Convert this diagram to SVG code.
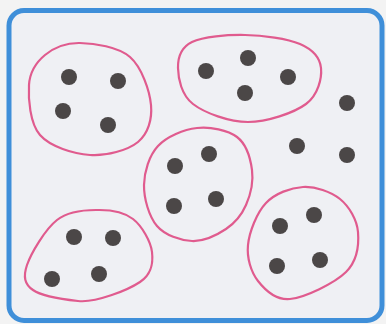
<svg xmlns="http://www.w3.org/2000/svg" width="386" height="324" viewBox="0 0 386 324">
<style>
.frame{fill:#eff0f4;stroke:#3f8fd9;stroke-width:5}
.blob{fill:none;stroke:#e05b8e;stroke-width:2.2}
.dot{fill:#4b4747}
</style>
<rect width="386" height="324" fill="#f3f3f3"/>
<rect class="frame" x="9" y="10.5" width="373" height="310" rx="15"/>
<g id="group1">
<path class="blob" d="M29,85 C29.8,71.7 36.5,62 45,55 C53.5,48 65.8,42.7 80,43 C94.2,43.3 118.2,46.7 130,57 C141.8,67.3 149.7,90.8 151,105 C152.3,119.2 148.2,133.7 138,142 C127.8,150.3 106.3,156.2 90,155 C73.7,153.8 50.2,146.7 40,135 C29.8,123.3 28.2,98.3 29,85 Z"/>
<circle class="dot" cx="69" cy="77" r="8"/>
<circle class="dot" cx="118" cy="81" r="8"/>
<circle class="dot" cx="63" cy="111" r="8"/>
<circle class="dot" cx="108" cy="125" r="8"/>
</g>
<g id="group2">
<path class="blob" d="M178,68 C177.8,57.7 180.8,47.5 192,42 C203.2,36.5 227,34.7 245,35 C263,35.3 287.3,38.5 300,44 C312.7,49.5 320,58 321,68 C322,78 318.2,95 306,104 C293.8,113 266.8,122 248,122 C229.2,122 204.7,113 193,104 C181.3,95 178.2,78.3 178,68 Z"/>
<circle class="dot" cx="206" cy="71" r="8"/>
<circle class="dot" cx="248" cy="58" r="8"/>
<circle class="dot" cx="288" cy="77" r="8"/>
<circle class="dot" cx="245" cy="93" r="8"/>
</g>
<g id="group3">
<path class="blob" d="M27,265 C31,253.3 45.2,229.2 57,220 C68.8,210.8 85.3,209.8 98,210 C110.7,209.8 124,212 133,219 C142,226 150.8,241.5 152,252 C153.2,262.5 152.3,273.8 140,282 C127.7,290.2 95.8,303 78,301 C60.2,299 41.5,296 33,290 C24.5,284 23,276.7 27,265 Z"/>
<circle class="dot" cx="74" cy="237" r="8"/>
<circle class="dot" cx="113" cy="238" r="8"/>
<circle class="dot" cx="52" cy="279" r="8"/>
<circle class="dot" cx="99" cy="274" r="8"/>
</g>
<g id="group4">
<path class="blob" d="M144,185 C144.2,171.7 149.2,155.5 158,146 C166.8,136.5 183.8,129.5 197,128 C210.2,126.5 227.8,130 237,137 C246.2,144 250.5,158.7 252,170 C253.5,181.3 250.3,195.2 246,205 C241.7,214.8 235,223 226,229 C217,235 203.5,241.5 192,241 C180.5,240.5 165,235.3 157,226 C149,216.7 143.8,198.3 144,185 Z"/>
<circle class="dot" cx="209" cy="154" r="8"/>
<circle class="dot" cx="175" cy="166" r="8"/>
<circle class="dot" cx="174" cy="206" r="8"/>
<circle class="dot" cx="216" cy="199" r="8"/>
</g>
<g id="group5">
<path class="blob" d="M248,245 C249.3,232 256.8,212.7 266,203 C275.2,193.3 290.7,187.7 303,187 C315.3,186.3 330.8,191.5 340,199 C349.2,206.5 357,219.8 358,232 C359,244.2 357.3,260.8 346,272 C334.7,283.2 304.7,297.5 290,299 C275.3,300.5 265,290 258,281 C251,272 246.7,258 248,245 Z"/>
<circle class="dot" cx="280" cy="226" r="8"/>
<circle class="dot" cx="314" cy="215" r="8"/>
<circle class="dot" cx="277" cy="266" r="8"/>
<circle class="dot" cx="320" cy="260" r="8"/>
</g>
<g id="loose">
<circle class="dot" cx="347" cy="103" r="8"/>
<circle class="dot" cx="297" cy="146" r="8"/>
<circle class="dot" cx="347" cy="155" r="8"/>
</g>
<g id="connectors"/>
</svg>
